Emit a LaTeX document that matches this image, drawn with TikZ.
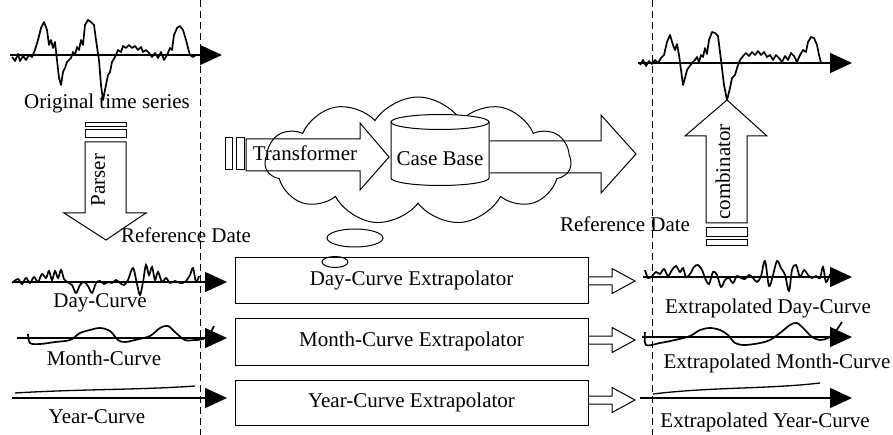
\documentclass[tikz,border=0pt]{standalone}
\usepackage{fontspec}
\setmainfont{Liberation Serif}
\usetikzlibrary{arrows.meta,shapes.geometric,shapes.symbols}

\tikzset{
  lbl/.style={font=\fontsize{21}{24}\selectfont, inner sep=0pt},
  refline/.style={line width=1pt, dash pattern=on 7pt off 4pt},
  axis/.style={line width=1.4pt, -{Triangle[length=22pt,width=20pt]}},
  series/.style={line width=1.7pt, line join=round},
  smoothcurve/.style={line width=1.7pt, smooth, tension=0.55},
  blockarrow/.style={line width=1pt, line join=miter},
  bar/.style={line width=1pt},
  extrbox/.style={draw, line width=1pt, minimum width=353pt, minimum height=45pt,
                  font=\fontsize{21}{24}\selectfont, inner sep=0pt},
  bubble/.style={draw, line width=1pt, ellipse, inner sep=0pt, fill=white},
}

\begin{document}
\begin{tikzpicture}[x=1pt,y=-1pt]
\useasboundingbox (0,0) rectangle (893,435);

% reference date lines
\coordinate (ltop) at (200,0);   \coordinate (lbot) at (200,435);
\coordinate (rtop) at (652,0);   \coordinate (rbot) at (652,435);
\draw[refline] (ltop) -- (lbot);
\draw[refline] (rtop) -- (rbot);

% ---------- original time series ----------
\coordinate (oa) at (10,55); \coordinate (ob) at (222,55);
\draw[axis] (oa) -- (ob);
\draw[series] plot coordinates {(12,57) (15,61) (18,54) (20,61) (23,56) (26,60) (29,55) (32,57)
 (35,50) (38,40) (41,28) (44,22) (47,30) (49,45) (51,40) (53,48) (55,42) (57,60) (59,78)
 (61,85) (63,72) (65,68) (67,62) (69,60) (71,58) (73,52) (75,55) (77,47) (79,50) (81,40)
 (83,45) (85,25) (88,20) (91,22) (94,25) (96,40) (99,60) (101,85) (103,100) (106,85)
 (108,75) (110,72) (112,62) (115,57) (118,50) (121,52) (123,46) (126,48) (129,45) (132,48)
 (135,46) (138,50) (141,47) (143,52) (146,50) (149,53) (152,57) (155,53) (158,58) (161,52)
 (164,60) (167,55) (170,48) (172,50) (174,35) (177,28) (180,26) (183,30) (186,40) (188,48)
 (190,55) (193,57) (196,55)};
\node[lbl] (orig) at (107,103) {Original time series};

% ---------- parser ----------
\draw[bar] (85,123) rectangle (126,127);
\draw[bar] (85,130) rectangle (126,138);
\draw[blockarrow] (85,142) -- (85,213) -- (64,213) -- (106,240) -- (146,213) -- (126,213) -- (126,142) -- cycle;
\node[lbl, rotate=90] (parser) at (98,180) {Parser};
\node[lbl] (refL) at (186,235) {Reference Date};

% ---------- cloud with case base ----------
\node[cloud, draw, line width=1pt, cloud puffs=11, cloud puff arc=115, aspect=2.4,
      minimum width=306pt, minimum height=128pt, inner sep=0pt] (cloud) at (418,161) {};
\node[bubble, minimum width=56pt, minimum height=18pt] (bub1) at (355,238) {};
\node[bubble, minimum width=26pt, minimum height=11pt] (bub2) at (335,262) {};

\draw[bar] (225,138) rectangle (232,170);
\draw[bar] (236,138) rectangle (244,170);
\draw[blockarrow] (246,139) -- (360,139) -- (360,123) -- (389,157) -- (360,190) -- (360,171) -- (246,171) -- cycle;
\node[lbl] (transf) at (305,153) {Transformer};

% case base: a drum with an elliptic top
\filldraw[line width=1pt, fill=white] (391,122) -- (391,178) arc[start angle=180, end angle=0,
   x radius=49, y radius=7.5] -- (489,122);
\filldraw[line width=1pt, fill=white] (440,122) ellipse [x radius=49, y radius=7.5];
\node[lbl] (cbtext) at (440,159) {Case Base};

\draw[blockarrow] (490,141) -- (601,141) -- (601,115) -- (636,154) -- (601,193) -- (601,173) -- (490,173);

% ---------- combinator ----------
\coordinate (ctip) at (727,100);
\draw[blockarrow] (ctip) -- (767,136) -- (747,136) -- (747,223) -- (706,223) -- (706,136) -- (685,136) -- cycle;
\draw[bar] (706,228) rectangle (747,237);
\draw[bar] (706,240) rectangle (747,246);
\node[lbl, rotate=90] (comb) at (723,172) {combinator};
\node[lbl] (refR) at (625,224) {Reference Date};

% ---------- combined series ----------
\coordinate (ca) at (638,63); \coordinate (cb2) at (852,63);
\draw[axis] (ca) -- (cb2);
\draw[series] plot coordinates {(640,65) (643,60) (646,66) (649,61) (652,64) (655,60) (658,63)
 (661,58) (664,55) (667,42) (670,35) (673,45) (675,50) (677,44) (679,55) (681,70) (683,85)
 (685,78) (687,70) (689,67) (692,63) (695,60) (697,57) (699,62) (701,55) (703,57) (705,48)
 (707,54) (709,40) (712,32) (715,33) (718,36) (721,60) (724,85) (727,100) (730,88) (732,78)
 (735,75) (737,68) (740,60) (743,56) (746,53) (749,56) (752,52) (755,55) (758,51) (761,55)
 (764,52) (767,57) (770,55) (773,60) (776,55) (779,58) (782,62) (785,56) (788,60) (791,53)
 (794,56) (797,62) (800,55) (803,50) (806,52) (808,42) (811,37) (814,38) (817,45) (819,55)
 (821,63)};

% ---------- extrapolators ----------
\node[extrbox] (dayx)   at (411.5,280.5) {Day-Curve Extrapolator};
\node[extrbox, minimum height=47pt] (monthx) at (411.5,341.5) {Month-Curve Extrapolator};
\node[extrbox] (yearx)  at (411.5,402.5) {Year-Curve Extrapolator};

\foreach \b/\c in {dayx/281, monthx/340, yearx/400}{
  \draw[blockarrow] (\b.east |- 0,\c-4) -- (612,\c-4) -- (612,\c-12.5) -- (635,\c)
     -- (612,\c+12.5) -- (612,\c+4) -- (\b.east |- 0,\c+4);
}

% ---------- input curves ----------
\draw[axis] (12,282) -- (227,282);
\draw[smoothcurve] plot coordinates {(12,283) (18,279) (22,284) (26,278) (30,283) (34,277)
 (38,282) (42,274) (46,278) (49,271) (52,280) (55,271) (58,278) (61,270) (64,279) (67,282)
 (72,285) (76,293) (80,285) (84,282) (88,286) (92,293) (96,283) (100,281) (104,284)
 (108,282) (112,283) (116,280) (120,283) (124,285) (128,280) (133,268) (137,284) (140,295)
 (143,282) (146,265) (149,275) (152,267) (155,280) (158,272) (162,282) (166,278) (170,283)
 (175,281) (180,283) (185,282) (190,275) (193,268) (196,282) (199,276)};
\node[lbl] (dayc) at (100,303) {Day-Curve};

\draw[axis] (17,338) -- (227,338);
\draw[smoothcurve] plot coordinates {(28,334) (30,343) (40,344) (55,342) (70,340) (80,333)
 (90,330) (100,328) (110,331) (118,340) (125,342) (135,340) (150,336) (160,328) (168,326)
 (176,333) (185,340) (195,340) (203,339) (210,333) (214,326)};
\node[lbl] (monthc) at (104,358) {Month-Curve};

\draw[axis] (12,398) -- (227,398);
\draw[line width=1.3pt] (15,393) .. controls (80,389) and (140,390) .. (195,386);
\node[lbl] (yearc) at (97,417) {Year-Curve};

% ---------- extrapolated curves ----------
\draw[axis] (643,277) -- (852,277);
\draw[smoothcurve] plot coordinates {(645,270) (648,278) (652,276) (656,272) (660,274)
 (664,269) (668,276) (672,270) (676,266) (680,272) (683,268) (686,277) (690,274) (694,267)
 (698,265) (702,270) (705,278) (709,284) (713,272) (717,275) (721,287) (725,280) (729,278)
 (733,283) (737,276) (741,278) (745,279) (749,275) (753,278) (757,282) (761,276) (765,261)
 (769,286) (773,275) (777,261) (781,268) (785,275) (789,291) (792,270) (796,265) (800,277)
 (804,270) (808,275) (812,278) (816,276) (820,278) (823,267) (826,282) (830,274)};
\node[lbl] (dayext) at (768,308) {Extrapolated Day-Curve};

\draw[axis] (642,337) -- (852,337);
\draw[smoothcurve] plot coordinates {(645,332) (646,345) (660,343) (675,340) (690,336)
 (700,330) (710,328) (720,330) (728,335) (735,343) (745,345) (760,343) (770,340) (780,333)
 (790,325) (797,323) (805,330) (812,337) (820,340) (828,338) (835,332) (842,322)};
\node[lbl] (monthext) at (777,363) {Extrapolated Month-Curve};

\draw[axis] (640,398) -- (852,398);
\draw[line width=1.3pt] (653,394) .. controls (710,387) and (770,389) .. (820,383);
\node[lbl] (yearext) at (765,422) {Extrapolated Year-Curve};
\end{tikzpicture}
\end{document}
